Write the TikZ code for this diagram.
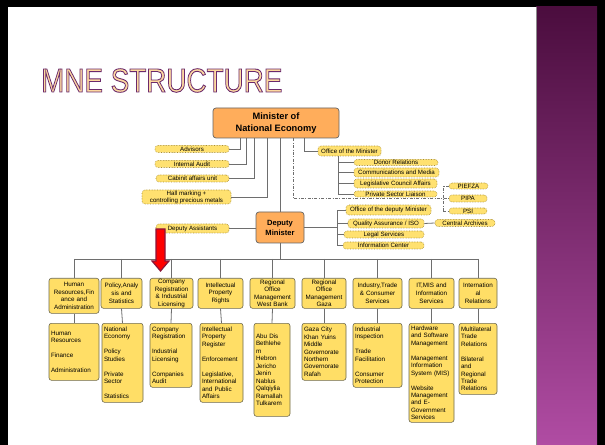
\documentclass[tikz,border=0pt]{standalone}
\usepackage{fontspec}
\setmainfont{Liberation Sans}

\definecolor{boxfill}{HTML}{FFDE66}
\definecolor{boxline}{HTML}{6E6A50}
\definecolor{stafffill}{HTML}{FFE170}
\definecolor{staffline}{HTML}{A88E30}
\definecolor{chieffill}{HTML}{FFAD5B}
\definecolor{chiefline}{HTML}{656565}
\definecolor{linkc}{HTML}{6E6E6E}
\definecolor{arrowline}{HTML}{8B1538}
\definecolor{bandtop}{HTML}{4B0D3E}
\definecolor{bandbottom}{HTML}{B04CA3}
\definecolor{titlefill}{HTML}{FDD9A0}

% Umriss-Schrift fuer den Titel
\newcommand{\outlinetext}[1]{\textcolor{titlefill}{%
  \special{pdf:literal direct 0.42 0.16 0.42 RG 0.9 w 2 Tr}#1\special{pdf:literal direct 0 Tr}}}

\begin{document}
\begin{tikzpicture}[x=1bp,y=-1bp,
  link/.style={draw=linkc, line width=0.8bp},
  dd/.style={link, dash pattern=on 3bp off 1.5bp on 0.8bp off 1.5bp},
  box/.style={draw=boxline, fill=boxfill, rounded corners=2.5bp, line width=0.6bp},
  chief/.style={draw=chiefline, fill=chieffill, rounded corners=3bp, inner sep=0pt,
    line width=0.7bp, align=center, font=\bfseries\fontsize{9.3}{12.5}\selectfont},
  staff/.style={draw=staffline, densely dotted, fill=stafffill, rounded corners=3bp,
    inner sep=0pt, line width=0.6bp, align=center, font=\fontsize{6.2}{7}\selectfont},
  unit/.style={box, anchor=north, inner xsep=1bp, inner ysep=0pt, minimum height=30bp,
    align=center, font=\fontsize{6.3}{7.6}\selectfont},
  sub/.style={box, anchor=north, inner xsep=2bp, inner ysep=1bp,
    align=left, font=\fontsize{6.3}{7.5}\selectfont}]
  \useasboundingbox (0,0) rectangle (605,445);

  % Rahmen
  \fill[black] (0,0) rectangle (605,445);
  \fill[white] (8,7) rectangle (536,445);
  \shade[top color=bandtop, bottom color=bandbottom] (536,7) rectangle (597,445);
  \draw[black!45, line width=1bp] (536.5,7) -- (536.5,445);

  \node[anchor=base west, inner sep=0pt, font=\fontsize{33.5}{36}\selectfont] (title) at (41,92)
    {\scalebox{0.834}[1]{\outlinetext{MNE STRUCTURE}}};

  % Minister
  \node[chief, minimum width=126bp, minimum height=30bp] (min) at (276,123) {Minister of\\National Economy};
  \node[staff, minimum width=74bp, minimum height=7bp] (adv) at (192,149) {Advisors};
  \node[staff, minimum width=74bp, minimum height=7bp] (aud) at (192,164) {Internal Audit};
  \node[staff, minimum width=73bp, minimum height=7bp] (cab) at (192.5,178.5) {Cabinit affairs unit};
  \node[staff, minimum width=89bp, minimum height=14bp] (hall) at (186.5,197) {Hall marking +\\controlling precious metals};

  \draw[link] ([xshift=-36bp]min.south) |- (adv.east);
  \draw[link] ([xshift=-30bp]min.south) |- (aud.east);
  \draw[link] ([xshift=-22bp]min.south) |- (cab.east);
  \draw[link] ([xshift=-9bp]min.south) |- (hall.east);

  \node[staff, minimum width=63bp, minimum height=10bp] (om) at (349.5,151) {Office of the Minister};
  \node[staff, minimum width=84bp, minimum height=6bp] (dr) at (396,162.5) {Donor Relations};
  \node[staff, minimum width=85bp, minimum height=9bp] (cm) at (396.5,172.5) {Communications and Media};
  \node[staff, minimum width=83bp, minimum height=9bp] (lc) at (395.5,183.5) {Legislative Council Affairs};
  \node[staff, minimum width=83bp, minimum height=6bp] (ps) at (395.5,194) {Private Sector Liaison};

  \draw[link] ([xshift=28bp]min.south) |- (om.west);
  \coordinate (omx) at ([xshift=-11.5bp]om.south);
  \foreach \n in {dr,cm,lc,ps}
    \draw[link] (omx) |- (\n.west);

  \node[staff, minimum width=39bp, minimum height=6bp] (pz) at (468.5,186) {PIEFZA};
  \node[staff, minimum width=38bp, minimum height=7bp] (pp) at (468,198.5) {PIPA};
  \node[staff, minimum width=38bp, minimum height=6bp] (psi) at (468,211) {PSI};
  \coordinate (br) at ([xshift=-5bp]pp.west);
  \draw[dd] ([xshift=17bp]min.south) |- (br) -- (pp.west);
  \draw[dd] (pz.west) -| (br) |- (psi.west);

  % Deputy
  \node[chief, minimum width=48bp, minimum height=31bp, font=\bfseries\fontsize{7.6}{10}\selectfont]
    (dep) at (280,227.5) {Deputy\\Minister};
  \draw[link] (dep.north |- min.south) -- (dep.north);

  \node[staff, minimum width=73bp, minimum height=9bp] (da) at (192.5,228.5) {Deputy Assistants};
  \draw[link] (da.east) -- (da.east -| dep.west);

  \node[staff, minimum width=85bp, minimum height=10bp] (odm) at (388.5,210) {Office of the deputy Minister};
  \node[staff, minimum width=76bp, minimum height=9bp] (qa) at (386,223.5) {Quality Assurance / ISO};
  \node[staff, minimum width=80bp, minimum height=7bp] (ls) at (384,234.5) {Legal Services};
  \node[staff, minimum width=81bp, minimum height=7bp] (ic) at (383.5,245.5) {Information Center};
  \node[staff, minimum width=60bp, minimum height=7bp] (ca) at (465,223) {Central Archives};

  \coordinate (djn) at ([xshift=33bp]dep.east);
  \draw[link] (dep.east) -- (djn);
  \foreach \n in {odm,qa,ls,ic}
    \draw[link] (djn) |- (\n.west);
  \draw[link] (qa.east) -- (ca.west);

  % Abteilungen
  \node[unit, minimum height=35bp, text width=48bp] (hr) at (74,278) {Human\\Resources,Fin\\ance and\\Administration};
  \node[unit, text width=39bp] (pol) at (121.5,278) {Policy,Analy\\sis and\\Statistics};
  \node[unit, text width=41bp] (comp) at (171.5,278) {Company\\Registration\\\& Industrial\\Licensing};
  \node[unit, text width=43bp] (ip) at (220.5,278) {Intellectual\\Property\\Rights};
  \node[unit, text width=43bp] (wb) at (272.5,278) {Regional\\Office\\Management\\West Bank};
  \node[unit, text width=42bp] (gz) at (324,278) {Regional\\Office\\Management\\Gaza};
  \node[unit, text width=47bp] (ind) at (377.5,278) {Industry,Trade\\\& Consumer\\Services};
  \node[unit, text width=43bp] (it) at (431.5,278) {IT,MIS and\\Information\\Services};
  \node[unit, text width=36bp] (intl) at (478,278) {Internation\\al\\Relations};

  \node[sub, text width=46bp, minimum height=57bp] (hr2) at (74,323)
    {Human\\Resources\\[7.5bp]Finance\\[7.5bp]Administration};
  \node[sub, text width=37bp, minimum height=79bp] (pol2) at (122.5,323)
    {National\\Economy\\[7.5bp]Policy\\Studies\\[7.5bp]Private\\Sector\\[7.5bp]Statistics};
  \node[sub, text width=38bp, minimum height=64bp] (comp2) at (171,323)
    {Company\\Registration\\[7.5bp]Industrial\\Licensing\\[7.5bp]Companies\\Audit};
  \node[sub, text width=39bp, minimum height=79bp] (ip2) at (221.5,323)
    {Intellectual\\Property\\Register\\[7.5bp]Enforcement\\[7.5bp]Legislative,\\International\\and Public\\Affairs};
  \node[sub, text width=32bp, minimum height=93bp] (wb2) at (272,323)
    {Abu Dis\\Bethlehe\\m\\Hebron\\Jericho\\Jenin\\Nablus\\Qalqiylia\\Ramallah\\Tulkarem};
  \node[sub, text width=40bp, minimum height=57bp] (gz2) at (324,323)
    {Gaza City\\Khan Yuins\\Middle\\Governorate\\Northern\\Governorate\\Rafah};
  \node[sub, text width=45bp, minimum height=64bp] (ind2) at (377.5,323)
    {Industrial\\Inspection\\[7.5bp]Trade\\Facilitation\\[7.5bp]Consumer\\Protection};
  \node[sub, text width=41bp, minimum height=99bp] (it2) at (431.5,323)
    {Hardware\\and Software\\Management\\[7.5bp]Management\\Information\\System (MIS)\\[7.5bp]Website\\Management\\and E-\\Government\\Services};
  \node[sub, text width=34bp, minimum height=71bp] (intl2) at (478,323)
    {Multilateral\\Trade\\Relations\\[7.5bp]Bilateral\\and\\Regional\\Trade\\Relations};

  \coordinate (bus) at (280,259);
  \draw[link] (dep.south) -- (bus);
  \draw[link] (hr.north |- bus) -- (intl.north |- bus);
  \foreach \n in {hr,pol,comp,ip,wb,gz,ind,it,intl} {
    \draw[link] (\n.north |- bus) -- (\n.north);
    \draw[link] (\n.south) -- (\n2.north);
  }

  % roter Pfeil
  \draw[fill=red, draw=arrowline, line width=1.2bp, line join=miter]
    (156,229) -- (165,229) -- (165,261) -- (169,261) -- (160.5,271) -- (152,261) -- (156,261) -- cycle;

\end{tikzpicture}
\end{document}
